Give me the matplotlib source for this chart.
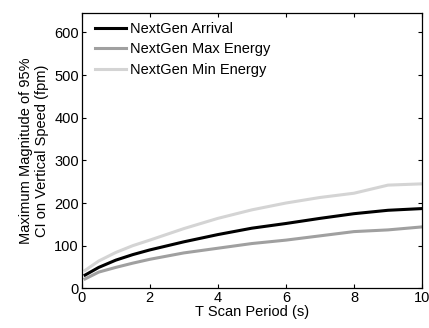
import matplotlib
matplotlib.use("Agg")
import matplotlib.pyplot as plt

plt.rcParams['font.family'] = ['Liberation Sans', 'DejaVu Sans']

t_scan = [0.1, 0.5, 1, 1.5, 2, 3, 4, 5, 6, 7, 8, 9, 10]
arrival = [31, 49, 66, 79, 90, 109, 126, 141, 152, 164, 175, 183, 187]
max_energy = [22, 38, 49, 59, 68, 83, 94, 105, 113, 123, 133, 137, 144]
min_energy = [42, 64, 84, 100, 113, 140, 164, 184, 200, 213, 223, 242, 245]

labels = ["NextGen Arrival", "NextGen Max Energy", "NextGen Min Energy"]
xticks = [0, 2, 4, 6, 8, 10]
yticks = [0, 100, 200, 300, 400, 500, 600]

FS = 10.5

fig = plt.figure(figsize=(4.29, 3.28), dpi=100)
ax = fig.add_axes([0.1904, 0.121, 0.7933, 0.8385])

ax.plot(t_scan, arrival, color='black', lw=2.2, label=labels[0])
ax.plot(t_scan, max_energy, color='#a0a0a0', lw=2.2, label=labels[1])
ax.plot(t_scan, min_energy, color='#d4d4d4', lw=2.2, label=labels[2])

ax.set_xlim(0, 10)
ax.set_ylim(0, 645)
ax.set_xticks(xticks)
ax.set_yticks(yticks)
ax.tick_params(direction='in', length=3, width=0.8, labelsize=FS,
               top=True, right=True, pad=2)
for s in ax.spines.values():
    s.set_linewidth(0.9)

ax.set_xlabel("T Scan Period (s)", fontsize=FS, labelpad=0)
ax.set_ylabel("Maximum Magnitude of 95%\nCI on Vertical Speed (fpm)",
              fontsize=FS, labelpad=4, linespacing=1.15)

ax.legend(loc='upper left', frameon=False, fontsize=FS, handlelength=2.1,
          handletextpad=0.3, labelspacing=0.45, borderaxespad=0.0,
          borderpad=0.4, bbox_to_anchor=(0.022, 0.99))

fig.savefig("out.png", dpi=100)
